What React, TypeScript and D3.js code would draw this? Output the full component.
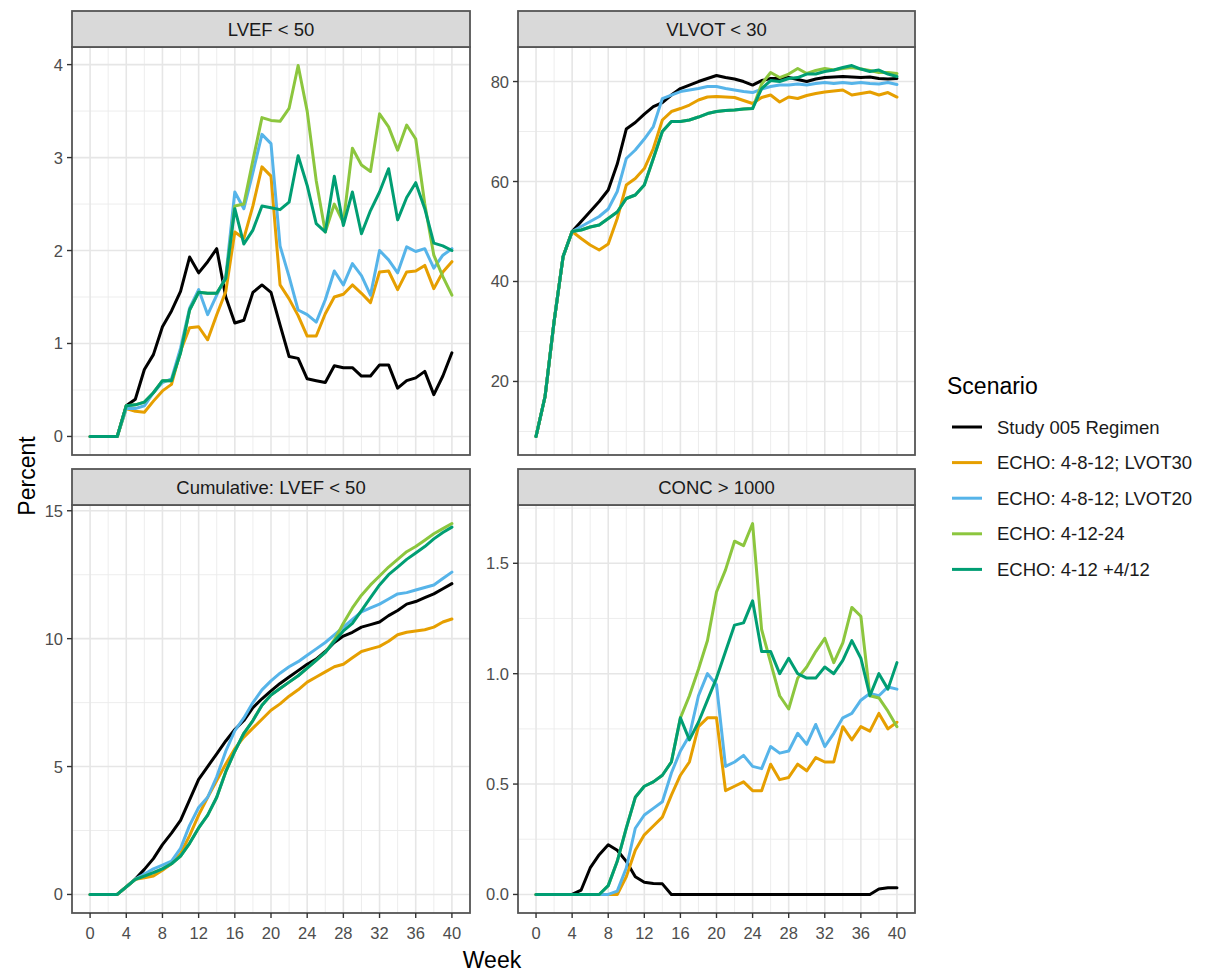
import React from "react";
import * as d3 from "d3";

// weeks on the x axis
const weeks = [
  0, 1, 2, 3, 4, 5, 6, 7, 8, 9, 10, 11, 12, 13, 14, 15, 16, 17, 18, 19, 20,
  21, 22, 23, 24, 25, 26, 27, 28, 29, 30, 31, 32, 33, 34, 35, 36, 37, 38, 39, 40,
];
const xTicks = [0, 4, 8, 12, 16, 20, 24, 28, 32, 36, 40];

const scenarios = [
  "Study 005 Regimen",
  "ECHO: 4-8-12; LVOT30",
  "ECHO: 4-8-12; LVOT20",
  "ECHO: 4-12-24",
  "ECHO: 4-12 +4/12",
];
const scenarioColors = ["#000000", "#E69F00", "#56B4E9", "#8CC63E", "#009E73"];

const panelTitles = ["LVEF < 50", "VLVOT < 30", "Cumulative: LVEF < 50", "CONC > 1000"];

const lvefTicks = [0, 1, 2, 3, 4];
const lvefTickLabels = ["0", "1", "2", "3", "4"];
const vlvotTicks = [20, 40, 60, 80];
const vlvotTickLabels = ["20", "40", "60", "80"];
const cumTicks = [0, 5, 10, 15];
const cumTickLabels = ["0", "5", "10", "15"];
const concTicks = [0, 0.5, 1, 1.5];
const concTickLabels = ["0.0", "0.5", "1.0", "1.5"];

// LVEF < 50
const lvefStudy = [0, 0, 0, 0, 0.33, 0.4, 0.72, 0.88, 1.18, 1.35, 1.56, 1.93, 1.76, 1.88, 2.02, 1.5, 1.22, 1.25, 1.55, 1.63, 1.55, 1.2, 0.86, 0.84, 0.62, 0.6, 0.58, 0.76, 0.74, 0.74, 0.65, 0.65, 0.77, 0.77, 0.52, 0.6, 0.63, 0.7, 0.45, 0.65, 0.9];
const lvefLvot30 = [0, 0, 0, 0, 0.3, 0.27, 0.26, 0.38, 0.49, 0.56, 0.92, 1.17, 1.18, 1.04, 1.31, 1.56, 2.2, 2.13, 2.48, 2.9, 2.8, 1.63, 1.48, 1.3, 1.08, 1.08, 1.32, 1.5, 1.53, 1.63, 1.54, 1.44, 1.77, 1.78, 1.58, 1.77, 1.78, 1.84, 1.59, 1.77, 1.88];
const lvefLvot20 = [0, 0, 0, 0, 0.3, 0.3, 0.33, 0.47, 0.58, 0.62, 0.95, 1.38, 1.58, 1.31, 1.52, 1.72, 2.63, 2.45, 2.84, 3.25, 3.15, 2.05, 1.72, 1.36, 1.31, 1.23, 1.47, 1.78, 1.63, 1.86, 1.73, 1.52, 2.0, 1.9, 1.76, 2.04, 1.99, 2.02, 1.81, 1.95, 2.02];
const lvef41224 = [0, 0, 0, 0, 0.33, 0.34, 0.37, 0.47, 0.6, 0.6, 0.9, 1.36, 1.55, 1.54, 1.54, 1.7, 2.48, 2.5, 2.97, 3.43, 3.4, 3.39, 3.53, 3.99, 3.5, 2.75, 2.2, 2.5, 2.3, 3.1, 2.92, 2.85, 3.47, 3.33, 3.08, 3.35, 3.2, 2.5, 1.95, 1.72, 1.52];
const lvef412 = [0, 0, 0, 0, 0.33, 0.34, 0.37, 0.47, 0.6, 0.6, 0.9, 1.36, 1.55, 1.54, 1.54, 1.7, 2.45, 2.07, 2.22, 2.48, 2.46, 2.44, 2.52, 3.02, 2.7, 2.29, 2.2, 2.8, 2.27, 2.63, 2.18, 2.43, 2.63, 2.88, 2.33, 2.57, 2.73, 2.45, 2.08, 2.05, 2.0];

// VLVOT < 30
const vlvotStudy = [9, 17, 32, 45, 50, 52, 54, 56, 58.3, 63.5, 70.5, 71.8, 73.5, 75, 75.8, 77.3, 78.6, 79.3, 80, 80.6, 81.2, 80.8, 80.5, 80, 79.3, 80.2, 80.6, 80.6, 80.8, 80.4, 80, 80.5, 80.8, 80.9, 81, 80.9, 80.8, 80.9, 80.6, 80.5, 80.6];
const vlvotLvot30 = [9, 17, 32, 45, 50, 48.6, 47.3, 46.3, 47.5, 52.6, 59.3, 60.6, 62.6, 66.6, 72.3, 74, 74.6, 75.3, 76.3, 76.9, 77, 76.9, 76.8, 76.2, 75.6, 76.8, 77.3, 75.9, 76.9, 76.6, 77.2, 77.6, 77.9, 78.1, 78.3, 77.3, 77.6, 77.9, 77.3, 77.8, 76.9];
const vlvotLvot20 = [9, 17, 32, 45, 50, 51, 52, 53, 54.5, 58, 64.6, 66.3, 68.5, 71, 76.6, 77.3, 78, 78.3, 78.6, 79, 79, 78.6, 78.3, 78, 77.8, 78.5, 79, 79.3, 79.3, 79.5, 79.3, 79.6, 79.8, 79.6, 79.8, 79.6, 79.8, 79.6, 79.5, 79.8, 79.4];
const vlvot41224 = [9, 17, 32, 45, 50, 50.3, 50.9, 51.3, 52.6, 53.9, 56.6, 57.3, 59.3, 64.6, 70, 72, 72, 72.3, 72.9, 73.6, 74, 74.2, 74.3, 74.5, 74.6, 79.5, 81.8, 80.8, 81.5, 82.6, 81.6, 82.2, 82.6, 82.3, 82.6, 82.8, 82.5, 82.2, 81.8, 81.8, 81.6];
const vlvot412 = [9, 17, 32, 45, 50, 50.3, 50.9, 51.3, 52.6, 53.9, 56.6, 57.3, 59.3, 64.6, 70, 72, 72, 72.3, 72.9, 73.6, 74, 74.2, 74.3, 74.5, 74.6, 78.6, 80.2, 80, 80.6, 80.8, 81.5, 81.5, 82, 82.3, 82.8, 83.2, 82.5, 82, 82.3, 81.5, 81];

// Cumulative: LVEF < 50
const cumStudy = [0, 0, 0, 0, 0.3, 0.6, 0.98, 1.4, 1.95, 2.4, 2.9, 3.7, 4.5, 5.0, 5.5, 6.0, 6.45, 6.8, 7.3, 7.65, 7.96, 8.25, 8.5, 8.75, 9.0, 9.2, 9.5, 9.85, 10.1, 10.25, 10.45, 10.55, 10.65, 10.9, 11.1, 11.35, 11.45, 11.6, 11.75, 11.95, 12.15];
const cumLvot30 = [0, 0, 0, 0, 0.3, 0.59, 0.65, 0.72, 0.95, 1.2, 1.6, 2.3, 3.1, 3.8, 4.45, 5.1, 5.7, 6.15, 6.5, 6.85, 7.2, 7.45, 7.75, 8.0, 8.3, 8.5, 8.7, 8.9, 9.0, 9.25, 9.5, 9.6, 9.7, 9.9, 10.15, 10.25, 10.3, 10.35, 10.45, 10.65, 10.77];
const cumLvot20 = [0, 0, 0, 0, 0.3, 0.6, 0.8, 1.0, 1.15, 1.3, 1.8, 2.7, 3.4, 3.8, 4.6, 5.6, 6.4, 6.9, 7.5, 8.0, 8.35, 8.65, 8.9, 9.1, 9.35, 9.6, 9.85, 10.15, 10.45, 10.75, 11.05, 11.2, 11.35, 11.55, 11.75, 11.8, 11.9, 12.0, 12.1, 12.35, 12.6];
const cum41224 = [0, 0, 0, 0, 0.3, 0.59, 0.72, 0.85, 1.0, 1.2, 1.5, 2.0, 2.6, 3.1, 3.8, 4.8, 5.6, 6.3, 6.8, 7.4, 7.8, 8.05, 8.3, 8.55, 8.85, 9.15, 9.46, 9.95, 10.6, 11.2, 11.7, 12.1, 12.45, 12.8, 13.1, 13.4, 13.6, 13.85, 14.1, 14.3, 14.5];
const cum412 = [0, 0, 0, 0, 0.3, 0.59, 0.72, 0.85, 1.0, 1.2, 1.5, 2.0, 2.6, 3.1, 3.8, 4.8, 5.6, 6.3, 6.8, 7.4, 7.8, 8.05, 8.3, 8.55, 8.85, 9.15, 9.46, 9.9, 10.3, 10.6, 11.1, 11.6, 12.1, 12.5, 12.8, 13.1, 13.35, 13.6, 13.9, 14.15, 14.36];

// CONC > 1000
const concStudy = [0, 0, 0, 0, 0, 0.02, 0.12, 0.18, 0.225, 0.2, 0.15, 0.08, 0.055, 0.05, 0.048, 0, 0, 0, 0, 0, 0, 0, 0, 0, 0, 0, 0, 0, 0, 0, 0, 0, 0, 0, 0, 0, 0, 0, 0.025, 0.03, 0.03];
const concLvot30 = [0, 0, 0, 0, 0, 0, 0, 0, 0, 0, 0.08, 0.2, 0.27, 0.31, 0.35, 0.45, 0.54, 0.6, 0.76, 0.8, 0.8, 0.47, 0.49, 0.51, 0.47, 0.47, 0.59, 0.52, 0.53, 0.59, 0.56, 0.62, 0.6, 0.6, 0.76, 0.7, 0.76, 0.74, 0.82, 0.75, 0.78];
const concLvot20 = [0, 0, 0, 0, 0, 0, 0, 0, 0, 0.015, 0.12, 0.3, 0.36, 0.39, 0.42, 0.55, 0.65, 0.72, 0.9, 1.0, 0.95, 0.58, 0.6, 0.63, 0.58, 0.57, 0.67, 0.64, 0.65, 0.73, 0.68, 0.77, 0.67, 0.73, 0.8, 0.82, 0.88, 0.91, 0.9, 0.94, 0.93];
const conc41224 = [0, 0, 0, 0, 0, 0, 0, 0, 0.04, 0.15, 0.3, 0.44, 0.49, 0.51, 0.54, 0.6, 0.8, 0.9, 1.02, 1.15, 1.37, 1.47, 1.6, 1.58, 1.68, 1.2, 1.05, 0.9, 0.84, 0.98, 1.03, 1.1, 1.16, 1.05, 1.14, 1.3, 1.26, 0.9, 0.89, 0.83, 0.76];
const conc412 = [0, 0, 0, 0, 0, 0, 0, 0, 0.04, 0.15, 0.3, 0.44, 0.49, 0.51, 0.54, 0.6, 0.8, 0.7, 0.78, 0.88, 0.98, 1.1, 1.22, 1.23, 1.33, 1.1, 1.1, 1.0, 1.07, 1.0, 0.98, 0.98, 1.03, 1.0, 1.06, 1.15, 1.07, 0.9, 1.0, 0.93, 1.05];

const FONT = "'Liberation Sans', Arial, Helvetica, sans-serif";

type Box = { x0: number; x1: number; y0: number; y1: number; stripTop: number };

// minor breaks halfway between majors (like ggplot)
const minorsOf = (majors: number[], lo: number, hi: number) => {
  const step = majors[1] - majors[0];
  const out: number[] = [];
  for (let i = -1; i < majors.length; i++) {
    const m = (i < 0 ? majors[0] - step : majors[i]) + step / 2;
    if (m > lo && m < hi) out.push(m);
  }
  return out;
};

const Panel = ({ title, series, yTicks, yLabels, box, showX }: {
  title: string; series: number[][]; yTicks: number[]; yLabels: string[]; box: Box; showX: boolean;
}) => {
  const x = d3.scaleLinear().domain([-2, 42]).range([box.x0, box.x1]);
  const all = series.flat();
  const [lo, hi] = d3.extent(all) as [number, number];
  const pad = (hi - lo) * 0.05;
  const y = d3.scaleLinear().domain([lo - pad, hi + pad]).range([box.y1, box.y0]);
  const line = d3.line<number>().x((_, i) => x(weeks[i])).y((d) => y(d));
  const yMinor = minorsOf(yTicks, lo - pad, hi + pad);
  const xMinor = minorsOf(xTicks, -2, 42);

  return (
    <g>
      <rect x={box.x0} y={box.y0} width={box.x1 - box.x0} height={box.y1 - box.y0} fill="#fff" />
      {xMinor.map((t) => (
        <line key={"xm" + t} x1={x(t)} x2={x(t)} y1={box.y0} y2={box.y1} stroke="#ebebeb" strokeWidth={0.9} />
      ))}
      {yMinor.map((t) => (
        <line key={"ym" + t} x1={box.x0} x2={box.x1} y1={y(t)} y2={y(t)} stroke="#ebebeb" strokeWidth={0.9} />
      ))}
      {xTicks.map((t) => (
        <line key={"xg" + t} x1={x(t)} x2={x(t)} y1={box.y0} y2={box.y1} stroke="#e6e6e6" strokeWidth={1.6} />
      ))}
      {yTicks.map((t) => (
        <line key={"yg" + t} x1={box.x0} x2={box.x1} y1={y(t)} y2={y(t)} stroke="#e6e6e6" strokeWidth={1.6} />
      ))}
      {series.map((s, k) => (
        <path key={k} d={line(s) || ""} fill="none" stroke={scenarioColors[k]} strokeWidth={3}
          strokeLinejoin="round" strokeLinecap="round" />
      ))}
      <rect x={box.x0} y={box.y0} width={box.x1 - box.x0} height={box.y1 - box.y0}
        fill="none" stroke="#555" strokeWidth={1.8} />
      {/* strip */}
      <rect x={box.x0} y={box.stripTop} width={box.x1 - box.x0} height={box.y0 - box.stripTop}
        fill="#d9d9d9" stroke="#555" strokeWidth={1.8} />
      <text x={(box.x0 + box.x1) / 2} y={(box.stripTop + box.y0) / 2} textAnchor="middle"
        dominantBaseline="central" fontSize={18.5} fill="#1a1a1a">{title}</text>
      {/* y axis */}
      {yTicks.map((t, i) => (
        <g key={"yt" + t}>
          <line x1={box.x0 - 5} x2={box.x0} y1={y(t)} y2={y(t)} stroke="#333" strokeWidth={1.4} />
          <text x={box.x0 - 9} y={y(t)} textAnchor="end" dominantBaseline="central" fontSize={16.5} fill="#4d4d4d">
            {yLabels[i]}
          </text>
        </g>
      ))}
      {showX && xTicks.map((t) => (
        <g key={"xt" + t}>
          <line x1={x(t)} x2={x(t)} y1={box.y1} y2={box.y1 + 5} stroke="#333" strokeWidth={1.4} />
          <text x={x(t)} y={box.y1 + 20} textAnchor="middle" dominantBaseline="central" fontSize={16.5} fill="#4d4d4d">
            {t}
          </text>
        </g>
      ))}
    </g>
  );
};

const App = () => {
  const left = { x0: 72, x1: 470 };
  const right = { x0: 518, x1: 915 };
  const top = { y0: 47, y1: 455, stripTop: 11 };
  const bottom = { y0: 505, y1: 913, stripTop: 469 };

  const panels = [
    { series: [lvefStudy, lvefLvot30, lvefLvot20, lvef41224, lvef412], ticks: lvefTicks, labels: lvefTickLabels, box: { ...left, ...top }, showX: false },
    { series: [vlvotStudy, vlvotLvot30, vlvotLvot20, vlvot41224, vlvot412], ticks: vlvotTicks, labels: vlvotTickLabels, box: { ...right, ...top }, showX: false },
    { series: [cumStudy, cumLvot30, cumLvot20, cum41224, cum412], ticks: cumTicks, labels: cumTickLabels, box: { ...left, ...bottom }, showX: true },
    { series: [concStudy, concLvot30, concLvot20, conc41224, conc412], ticks: concTicks, labels: concTickLabels, box: { ...right, ...bottom }, showX: true },
  ];

  const legendX = 947;
  const legendY0 = 427;
  const legendStep = 35.6;

  return (
    <div style={{ position: "absolute", left: 0, top: 0 }}>
      <svg width={1206} height={972} style={{ display: "block", fontFamily: FONT }}>
        <rect width={1206} height={972} fill="#fff" />
        {panels.map((p, i) => (
          <Panel key={i} title={panelTitles[i]} series={p.series} yTicks={p.ticks} yLabels={p.labels} box={p.box} showX={p.showX} />
        ))}
        <text x={27} y={476} transform="rotate(-90 27 476)" textAnchor="middle" dominantBaseline="central" fontSize={23} fill="#000">
          Percent
        </text>
        <text x={492} y={960} textAnchor="middle" dominantBaseline="central" fontSize={23} fill="#000">
          Week
        </text>
        <text x={legendX} y={386} dominantBaseline="central" fontSize={23} fill="#000">Scenario</text>
        {scenarios.map((s, i) => (
          <g key={s}>
            <line x1={legendX + 5} x2={legendX + 35} y1={legendY0 + i * legendStep} y2={legendY0 + i * legendStep}
              stroke={scenarioColors[i]} strokeWidth={3} />
            <text x={legendX + 50} y={legendY0 + i * legendStep} dominantBaseline="central" fontSize={18.5} fill="#1a1a1a">
              {s}
            </text>
          </g>
        ))}
      </svg>
    </div>
  );
};

export default App;
